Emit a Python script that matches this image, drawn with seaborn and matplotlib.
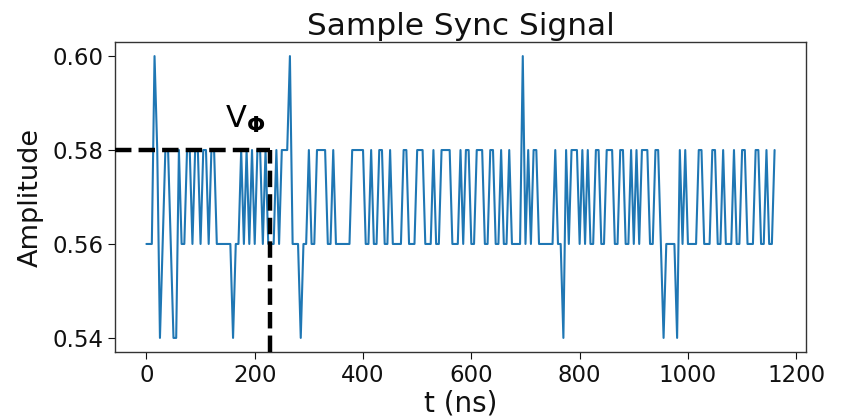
import numpy as np
import pandas as pd
import matplotlib
matplotlib.use("Agg")
import matplotlib.pyplot as plt
import seaborn as sns

# ---- data ----
sample_period_ns = 5
amplitude = [
    0.56, 0.56, 0.56, 0.60, 0.58, 0.54, 0.56, 0.58, 0.58, 0.56,
    0.54, 0.54, 0.58, 0.56, 0.56, 0.58, 0.58, 0.56, 0.58, 0.58,
    0.56, 0.58, 0.58, 0.56, 0.58, 0.58, 0.56, 0.56, 0.56, 0.56,
    0.56, 0.56, 0.54, 0.56, 0.56, 0.58, 0.56, 0.58, 0.56, 0.58,
    0.56, 0.58, 0.58, 0.56, 0.58, 0.56, 0.56, 0.56, 0.58, 0.56,
    0.58, 0.58, 0.58, 0.60, 0.56, 0.56, 0.56, 0.54, 0.56, 0.56,
    0.58, 0.56, 0.56, 0.58, 0.58, 0.58, 0.58, 0.56, 0.56, 0.58,
    0.56, 0.56, 0.56, 0.56, 0.56, 0.56, 0.58, 0.58, 0.58, 0.58,
    0.58, 0.56, 0.56, 0.58, 0.56, 0.56, 0.58, 0.58, 0.56, 0.56,
    0.58, 0.56, 0.56, 0.56, 0.56, 0.58, 0.58, 0.56, 0.56, 0.56,
    0.58, 0.58, 0.58, 0.56, 0.56, 0.56, 0.58, 0.56, 0.56, 0.58,
    0.58, 0.58, 0.58, 0.56, 0.56, 0.56, 0.58, 0.56, 0.58, 0.58,
    0.56, 0.56, 0.58, 0.58, 0.58, 0.56, 0.56, 0.58, 0.58, 0.56,
    0.56, 0.58, 0.56, 0.56, 0.58, 0.56, 0.56, 0.56, 0.56, 0.60,
    0.56, 0.58, 0.56, 0.58, 0.58, 0.56, 0.56, 0.56, 0.56, 0.56,
    0.56, 0.58, 0.56, 0.56, 0.54, 0.58, 0.56, 0.58, 0.58, 0.58,
    0.56, 0.58, 0.56, 0.58, 0.56, 0.56, 0.58, 0.58, 0.56, 0.56,
    0.58, 0.58, 0.58, 0.56, 0.56, 0.58, 0.58, 0.56, 0.56, 0.58,
    0.56, 0.58, 0.56, 0.58, 0.58, 0.58, 0.56, 0.56, 0.58, 0.58,
    0.56, 0.54, 0.56, 0.56, 0.56, 0.56, 0.54, 0.58, 0.56, 0.58,
    0.56, 0.56, 0.56, 0.56, 0.58, 0.58, 0.56, 0.56, 0.56, 0.58,
    0.58, 0.56, 0.56, 0.58, 0.56, 0.56, 0.56, 0.58, 0.56, 0.56,
    0.58, 0.58, 0.56, 0.56, 0.56, 0.58, 0.58, 0.56, 0.56, 0.58,
    0.56, 0.56, 0.58,
]
time_ns = [sample_period_ns * i for i in range(len(amplitude))]

v_phi_level = 0.58
v_phi_time = 228
v_phi_label = r'$\mathrm{V}_{\mathbf{\Phi}}$'
title = "Sample Sync Signal"
xlabel = "t (ns)"
ylabel = "Amplitude"
yticks = [0.54, 0.56, 0.58, 0.60]
xticks = [0, 200, 400, 600, 800, 1000, 1200]

# ---- plot ----
sns.set_style("ticks")
plt.rcParams['font.family'] = ['DejaVu Sans']
plt.rcParams['mathtext.fontset'] = 'dejavusans'

fig = plt.figure(figsize=(8.42, 4.19), dpi=100)
ax = fig.add_axes([115 / 842, 1 - 352 / 419, (806 - 115) / 842, (352 - 42) / 419])

df = pd.DataFrame({"t": time_ns, "amp": amplitude})
sns.lineplot(data=df, x="t", y="amp", ax=ax, color="#1f77b4",
             linewidth=1.5, estimator=None, sort=False)

xlim = ax.get_xlim()
ylim = ax.get_ylim()
ax.plot([xlim[0], v_phi_time], [v_phi_level, v_phi_level], ls="--",
        color="black", lw=3.2, zorder=3)
ax.plot([v_phi_time, v_phi_time], [ylim[0], v_phi_level], ls="--",
        color="black", lw=3.2, zorder=3)
ax.set_xlim(xlim)
ax.set_ylim(ylim)

ax.text(145, 0.5848, v_phi_label, fontsize=22, ha="left", va="baseline",
        color="black")

ax.set_xticks(xticks)
ax.set_yticks(yticks)
ax.set_yticklabels([f"{v:.2f}" for v in yticks])
ax.tick_params(axis="both", labelsize=16.5, colors="#111111", length=5)
ax.set_xlabel(xlabel, fontsize=20, color="#111111", labelpad=2)
ax.set_ylabel(ylabel, fontsize=19.5, color="#111111", labelpad=6)
ax.set_title(title, fontsize=22.5, color="#111111", pad=5)
for s in ax.spines.values():
    s.set_color("#333333")
    s.set_linewidth(1.0)

fig.savefig("out.png", dpi=100)
